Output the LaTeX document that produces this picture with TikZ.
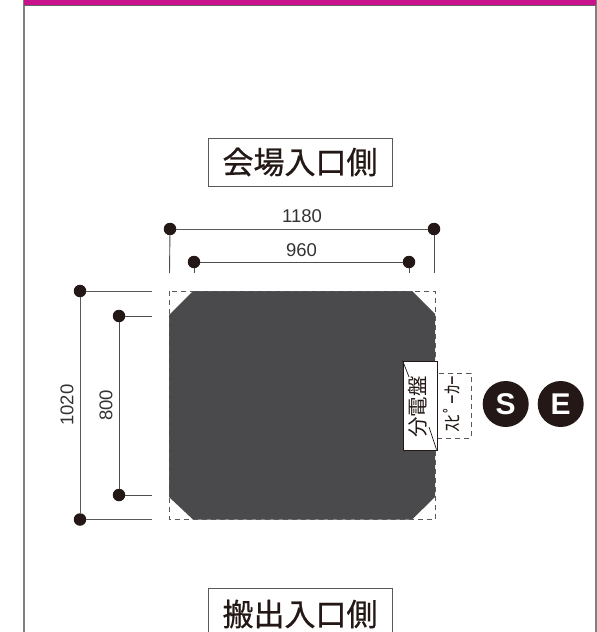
\documentclass[tikz,border=0pt]{standalone}
\usepackage{fontspec}
\setmainfont{Liberation Sans}
\newfontfamily\cjk[FakeBold=0.7]{Noto Sans CJK JP}
\newfontfamily\cjklight{Noto Sans CJK JP}
\definecolor{inkdark}{HTML}{231815}
\definecolor{floordark}{HTML}{4A4A4C}
\definecolor{bandpink}{HTML}{C7128B}
\usetikzlibrary{positioning, calc}

\begin{document}
\begin{tikzpicture}[
    x=1pt, y=-1pt,
    titlebox/.style={rectangle, draw=black!65, line width=0.9pt, fill=white, minimum width=184pt,
                  minimum height=48pt, inner sep=0pt, text=inkdark, font=\fontsize{31}{31}\cjk},
    dot/.style={circle, fill=inkdark, minimum size=12.5pt, inner sep=0pt},
    badge/.style={circle, fill=inkdark, minimum size=46pt, inner sep=0pt, text=white,
                  font=\fontsize{30}{30}\selectfont\bfseries},
    dimlabel/.style={text=black!80, inner sep=0pt, font=\fontsize{18.5}{18.5}\selectfont},
    dimline/.style={line width=0.9pt, draw=black!65},
    extline/.style={line width=0.9pt, draw=black!70},
    dashline/.style={line width=0.8pt, draw=black!65, dash pattern=on 5pt off 4pt}
]
    \useasboundingbox (0,0) rectangle (597,632);
    \clip (0,0) rectangle (597,632);

    % Frame
    \draw[line width=1.6pt, draw=black!50] (24,0) -- (24,632);
    \draw[line width=1.6pt, draw=black!50] (596,0) -- (596,632);
    \fill[bandpink] (24,0) rectangle (596,5.5);
    \draw[line width=0.8pt, draw=black!60] (23.5,5.8) -- (596,5.8);

    % Titles
    \node[titlebox] (entrance) at (300,162) {会場入口側};
    \node[titlebox, minimum height=52pt] (exit) at (300,614) {搬出入口側};

    % Floor
    \fill[floordark] (193,291) -- (412,291) -- (435,314) -- (435,497) -- (412,519.5)
        -- (193,519.5) -- (169,497) -- (169,315) -- cycle;
    \draw[dashline] (169,291) rectangle (435,519.5);

    % Speaker
    \node[draw=black!65, line width=0.8pt, dash pattern=on 5pt off 4pt, minimum width=34pt, minimum height=65pt,
          inner sep=0pt] (speakerbox) at (454,405.5) {};
    \node[rotate=90, inner sep=0pt, text=inkdark, font=\fontsize{19}{19}\cjklight] (speaker) at (452,404) {ｽﾋﾟｰｶｰ};

    % Panel
    \node[draw=inkdark, line width=0.9pt, fill=white, minimum width=34pt, minimum height=89pt,
          inner sep=0pt] (panel) at (420,405.5) {};
    \draw[line width=0.7pt, draw=inkdark] (panel.north west) -- (409,377);
    \draw[line width=0.7pt, draw=inkdark] (429,427) -- (436.5,449.5);
    \node[rotate=90, inner sep=0pt, text=inkdark, font=\fontsize{20.5}{20.5}\cjklight] (panellabel) at (418,407) {分電盤};

    % Marks
    \node[badge] (markS) at (505.7,404) {S};
    \node[badge] (markE) at (560.7,404) {E};

    % Width 1180
    \node[dot] (wa) at (170,229) {};
    \node[dot] (wb) at (434,229) {};
    \coordinate (wax) at (169.5,273);
    \coordinate (wbx) at (434,273);
    \draw[dimline] (wa) -- (wb) node[midway, above=6pt, dimlabel] (wlabel) {1180};
    \draw[extline] (wa) -- (wax);
    \draw[extline] (wb) -- (wbx);

    % Width 960
    \node[dot] (ia) at (194,262) {};
    \node[dot] (ib) at (409,262) {};
    \coordinate (iax) at (194,273);
    \coordinate (ibx) at (409,273);
    \draw[extline] (ia) -- (ib) node[midway, above=5pt, dimlabel] (ilabel) {960};
    \draw[extline] (ia) -- (iax);
    \draw[extline] (ib) -- (ibx);

    % Height 1020
    \node[dot] (ha) at (80,291) {};
    \node[dot] (hb) at (80,519.5) {};
    \coordinate (hax) at (152,291);
    \coordinate (hbx) at (152,519.5);
    \draw[dimline] (ha) -- (hb) node[midway, left=6pt, rotate=90, anchor=south, dimlabel] (hlabel) {1020};
    \draw[dimline] (ha) -- (hax);
    \draw[dimline] (hb) -- (hbx);

    % Height 800
    \node[dot] (ja) at (119,316) {};
    \node[dot] (jb) at (119,495) {};
    \coordinate (jax) at (152,316);
    \coordinate (jbx) at (152,495);
    \draw[extline] (ja) -- (jb) node[midway, left=6pt, rotate=90, anchor=south, dimlabel] (jlabel) {800};
    \draw[extline] (ja) -- (jax);
    \draw[extline] (jb) -- (jbx);
\end{tikzpicture}
\end{document}
